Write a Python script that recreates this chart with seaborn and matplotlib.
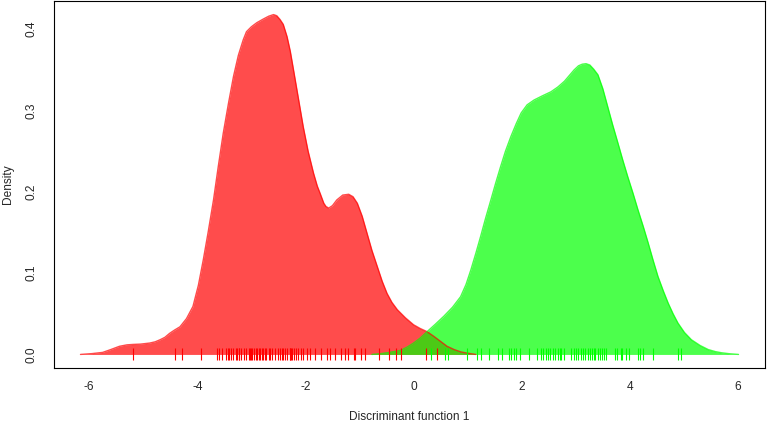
import numpy as np
import pandas as pd
import seaborn as sns
import matplotlib
matplotlib.use("Agg")
import matplotlib.pyplot as plt

# densidade (grupo 1 = vermelho, grupo 2 = verde)
red_x = [-6.16, -5.95, -5.75, -5.60, -5.44, -5.30, -5.19, -5.05, -4.88, -4.78,
         -4.69, -4.60, -4.51, -4.42, -4.32, -4.20, -4.08, -3.98, -3.89, -3.80,
         -3.70, -3.61, -3.52, -3.42, -3.33, -3.24, -3.15, -3.09, -3.00, -2.90,
         -2.78, -2.68, -2.59, -2.53, -2.47, -2.41, -2.34, -2.28, -2.22, -2.13,
         -2.04, -1.95, -1.85, -1.78, -1.73, -1.66, -1.62, -1.57, -1.50, -1.42,
         -1.31, -1.20, -1.12, -1.04, -0.95, -0.86, -0.77, -0.67, -0.58, -0.49,
         -0.40, -0.30, -0.15, 0.00, 0.12, 0.25, 0.38, 0.50, 0.62, 0.75,
         0.88, 1.00, 1.15]
red_d = [0.000, 0.001, 0.0025, 0.006, 0.010, 0.0118, 0.0123, 0.0127, 0.014, 0.0155,
         0.018, 0.021, 0.026, 0.030, 0.034, 0.044, 0.059, 0.085, 0.116, 0.150,
         0.190, 0.232, 0.272, 0.310, 0.342, 0.368, 0.387, 0.397, 0.403, 0.408,
         0.4125, 0.416, 0.418, 0.4166, 0.412, 0.406, 0.391, 0.373, 0.350, 0.315,
         0.280, 0.250, 0.223, 0.207, 0.1985, 0.186, 0.182, 0.180, 0.183, 0.190,
         0.196, 0.197, 0.194, 0.186, 0.170, 0.149, 0.128, 0.108, 0.090, 0.075,
         0.064, 0.055, 0.045, 0.0365, 0.032, 0.028, 0.022, 0.016, 0.010, 0.006,
         0.003, 0.0015, 0.000]

green_x = [-0.77, -0.60, -0.45, -0.24, -0.12, 0.00, 0.12, 0.25, 0.40, 0.56,
           0.72, 0.87, 0.97, 1.06, 1.15, 1.24, 1.33, 1.43, 1.52, 1.61,
           1.70, 1.80, 1.90, 1.99, 2.10, 2.23, 2.38, 2.54, 2.67, 2.79,
           2.88, 2.97, 3.05, 3.12, 3.19, 3.26, 3.33, 3.41, 3.50, 3.59,
           3.68, 3.78, 3.87, 3.96, 4.06, 4.15, 4.25, 4.34, 4.43, 4.52,
           4.62, 4.71, 4.80, 4.89, 5.01, 5.14, 5.30, 5.45, 5.58, 5.70,
           5.85, 6.01]
green_d = [0.000, 0.001, 0.0025, 0.005, 0.009, 0.014, 0.020, 0.028, 0.037, 0.047,
           0.058, 0.071, 0.086, 0.104, 0.124, 0.145, 0.167, 0.190, 0.211, 0.231,
           0.250, 0.268, 0.284, 0.297, 0.307, 0.313, 0.318, 0.323, 0.329, 0.336,
           0.343, 0.350, 0.355, 0.357, 0.3576, 0.356, 0.351, 0.344, 0.327, 0.305,
           0.283, 0.260, 0.239, 0.219, 0.198, 0.178, 0.157, 0.137, 0.116, 0.096,
           0.078, 0.063, 0.050, 0.0386, 0.027, 0.018, 0.011, 0.006, 0.0035, 0.002,
           0.0008, 0.000]

# observacoes (rug)
red_obs = [-5.19, -4.41, -4.28, -3.93, -3.63, -3.59, -3.54, -3.46, -3.44, -3.41,
           -3.38, -3.34, -3.28, -3.26, -3.23, -3.22, -3.19, -3.14, -3.10, -3.05,
           -3.02, -3.01, -2.98, -2.96, -2.91, -2.89, -2.86, -2.84, -2.81, -2.78,
           -2.74, -2.73, -2.68, -2.65, -2.61, -2.57, -2.51, -2.47, -2.44, -2.41,
           -2.37, -2.34, -2.29, -2.28, -2.26, -2.24, -2.22, -2.18, -2.13, -2.08,
           -2.04, -1.97, -1.91, -1.83, -1.71, -1.61, -1.54, -1.46, -1.34, -1.26,
           -1.21, -1.10, -1.08, -0.98, -0.89, -0.63, -0.46, -0.33, -0.24, 0.23,
           0.43]
green_obs = [0.32, 0.58, 0.64, 0.98, 1.17, 1.24, 1.40, 1.57, 1.63, 1.77,
             1.81, 1.85, 1.90, 1.97, 2.13, 2.29, 2.36, 2.39, 2.45, 2.48,
             2.52, 2.57, 2.61, 2.67, 2.70, 2.73, 2.78, 2.91, 2.96, 3.00,
             3.04, 3.09, 3.14, 3.17, 3.23, 3.27, 3.30, 3.33, 3.36, 3.41,
             3.44, 3.49, 3.53, 3.56, 3.72, 3.77, 3.83, 3.85, 3.92, 3.99,
             4.15, 4.18, 4.24, 4.43, 4.89, 4.95]

x_ticks = [-6, -4, -2, 0, 2, 4, 6]
y_ticks = [0.0, 0.1, 0.2, 0.3, 0.4]

dens = pd.concat([
    pd.DataFrame({"x": red_x, "d": red_d, "grupo": "1"}),
    pd.DataFrame({"x": green_x, "d": green_d, "grupo": "2"}),
])
obs = pd.concat([
    pd.DataFrame({"x": red_obs, "grupo": "1"}),
    pd.DataFrame({"x": green_obs, "grupo": "2"}),
])
obs["y"] = 0.0

sns.set_theme(style="white")
plt.rcParams["font.family"] = ["Liberation Sans", "DejaVu Sans"]
plt.rcParams["axes.unicode_minus"] = False

fill_cols = {"1": (1, 0, 0, 0.7), "2": (0, 1, 0, 0.7)}
rug_cols = {"1": (1, 0, 0), "2": (0, 1, 0)}

fig, ax = plt.subplots(figsize=(7.67, 4.23), dpi=100)
fig.subplots_adjust(left=0.0704, right=0.9974, bottom=0.130, top=0.9976)

for g, sub in dens.groupby("grupo"):
    ax.fill_between(sub["x"], sub["d"], color=fill_cols[g], linewidth=0)
    sns.lineplot(data=sub, x="x", y="d", color=fill_cols[g], linewidth=1.0,
                 estimator=None, sort=False, ax=ax)

# tracinhos das observacoes em y = 0
for g, sub in obs.groupby("grupo"):
    ax.plot(sub["x"], sub["y"], linestyle="none", marker="|", markersize=8,
            markeredgewidth=0.8, color=rug_cols[g], zorder=3)

ax.set_xlim(-6.65, 6.50)
ax.set_ylim(-0.0167, 0.4347)
ax.set_xticks(x_ticks)
ax.set_xticklabels([str(t) for t in x_ticks])
ax.set_yticks(y_ticks)
ax.set_yticklabels([f"{t:.1f}" for t in y_ticks], rotation=90, va="center")
ax.tick_params(axis="both", which="major", direction="out", length=5.2,
               width=0.8, color="black", labelsize=8.6)
ax.tick_params(axis="x", pad=3.8)
ax.tick_params(axis="y", pad=6.7)
for sp in ax.spines.values():
    sp.set_color("black")
    sp.set_linewidth(0.8)

ax.set_xlabel("Discriminant function 1", fontsize=8.6, labelpad=13)
ax.set_ylabel("Density", fontsize=8.6, labelpad=8.5)

fig.savefig("out.png", dpi=100)
